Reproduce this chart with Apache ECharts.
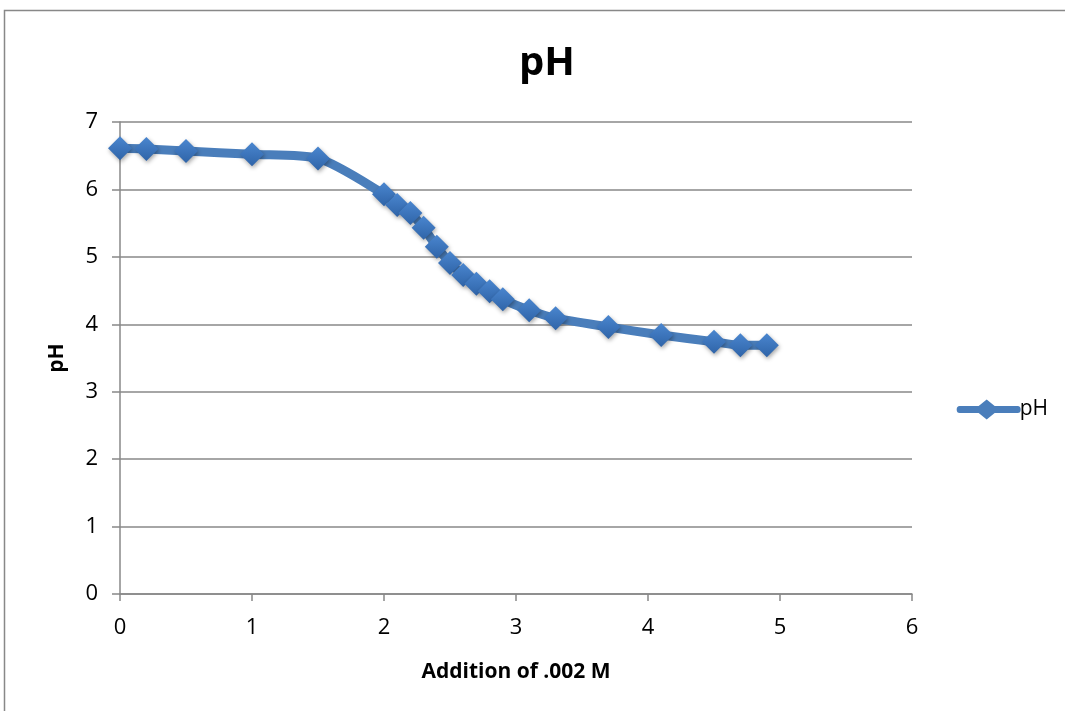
<!DOCTYPE html>
<html><head><meta charset="utf-8">
<script src="https://cdn.jsdelivr.net/npm/echarts@6/dist/echarts.min.js"></script>
<style>html,body{margin:0;padding:0;background:#fff}#c{width:1065px;height:711px}</style>
</head><body><div id="c"></div>
<script>
const xValues = [0, 0.2, 0.5, 1, 1.5, 2, 2.1, 2.2, 2.3, 2.4, 2.5, 2.6, 2.7, 2.8, 2.9, 3.1, 3.3, 3.7, 4.1, 4.5, 4.7, 4.9];
const phValues = [6.61, 6.60, 6.57, 6.52, 6.46, 5.93, 5.77, 5.65, 5.43, 5.15, 4.91, 4.73, 4.60, 4.49, 4.37, 4.21, 4.09, 3.96, 3.84, 3.74, 3.69, 3.69];
const seriesName = 'pH';
const titleText = 'pH';
const xAxisTitle = 'Addition of .002 M';
const yAxisTitle = 'pH';

const chart = echarts.init(document.getElementById('c'));
const FONT = '"Open Sans", "Liberation Sans", sans-serif';
chart.setOption({
  backgroundColor: '#fff',
  animation: false,
  graphic: [{
    type: 'rect', shape: {x: 4.5, y: 10.5, width: 1200, height: 800},
    style: {fill: 'none', stroke: '#888', lineWidth: 1.5}, silent: true
  }],
  title: {
    text: titleText, left: 542, textAlign: 'center', top: 39,
    textStyle: {fontFamily: FONT, fontSize: 40, fontWeight: 'bold', color: '#000'}
  },
  legend: {
    right: 12, top: 394, orient: 'vertical',
    itemWidth: 64, itemHeight: 20, itemGap: 4,
    textStyle: {fontFamily: FONT, fontSize: 21, color: '#000', padding: [0,0,0,-6]},
    data: [{name: seriesName, icon: 'path://M3,6.5 L22,6.5 L30,0 L38,6.5 L61,6.5 Q64,6.5 64,10 Q64,13.5 61,13.5 L38,13.5 L30,20 L22,13.5 L3,13.5 Q0,13.5 0,10 Q0,6.5 3,6.5 Z',
            itemStyle: {color: '#4a7ebb'}}]
  },
  grid: {left: 120, right: 153, top: 122, bottom: 117},
  xAxis: {
    type: 'value', min: 0, max: 6, interval: 1,
    name: xAxisTitle, nameLocation: 'middle', nameGap: 68,
    nameTextStyle: {fontFamily: FONT, fontSize: 21, fontWeight: 'bold', color: '#000'},
    axisLine: {show: true, lineStyle: {color: '#888', width: 1.5}},
    axisTick: {show: true, length: 7, lineStyle: {color: '#888', width: 1.5}},
    axisLabel: {fontFamily: FONT, fontSize: 22, color: '#000', margin: 23},
    splitLine: {show: false}
  },
  yAxis: {
    type: 'value', min: 0, max: 7, interval: 1,
    name: yAxisTitle, nameLocation: 'middle', nameGap: 52, nameRotate: 90,
    nameTextStyle: {fontFamily: FONT, fontSize: 21, fontWeight: 'bold', color: '#000'},
    axisLine: {show: true, lineStyle: {color: '#888', width: 1.5}},
    axisTick: {show: true, inside: false, length: 8, lineStyle: {color: '#888', width: 1.5}},
    axisLabel: {fontFamily: FONT, fontSize: 22, color: '#000', margin: 22},
    splitLine: {show: true, lineStyle: {color: '#888', width: 1.5}}
  },
  series: [{
    name: seriesName, type: 'line', smooth: 0.25,
    data: xValues.map((x, i) => [x, phValues[i]]),
    symbol: 'diamond', symbolSize: 24,
    lineStyle: {color: '#4a7ebb', width: 9},
    itemStyle: {
      color: new echarts.graphic.LinearGradient(0, 0, 0, 1, [
        {offset: 0, color: '#4a86cf'}, {offset: 1, color: '#2f64a8'}
      ]),
      borderWidth: 0,
      shadowColor: 'rgba(0,0,0,0.35)', shadowBlur: 4, shadowOffsetX: 1, shadowOffsetY: 2
    },
    color: '#4a7ebb'
  }]
});
</script></body></html>
